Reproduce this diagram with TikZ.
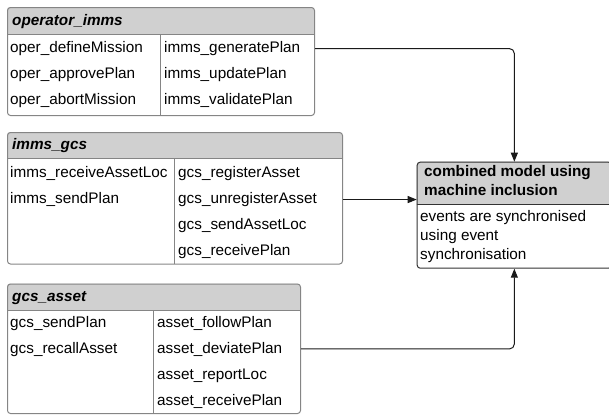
\documentclass[tikz,border=0pt]{standalone}
\usepackage{fontspec}
\setmainfont{Liberation Sans}
\usetikzlibrary{arrows.meta}
\definecolor{headgray}{HTML}{D0D0D0}
\definecolor{framegray}{HTML}{858585}
\definecolor{framedark}{HTML}{333333}
\definecolor{inkdark}{HTML}{1A1A1A}

% grey title band of a box: left x, right x, top y, band bottom y
\newcommand\titleband[4]{%
  \fill[headgray, rounded corners=3pt] (#1,#3) rectangle (#2,#4+4);
  \fill[white] (#1+0.5,#4) rectangle (#2-0.5,#4+6);}

\begin{document}
\begin{tikzpicture}[x=1pt,y=-1pt,
  frame/.style={draw=framegray, line width=1pt, rounded corners=3pt, rectangle,
                inner sep=0pt, anchor=north west},
  title/.style={anchor=base west, inner sep=0pt, font=\fontsize{15.3}{18}\selectfont\bfseries\itshape},
  btitle/.style={anchor=base west, inner sep=0pt, font=\fontsize{15.3}{18}\selectfont\bfseries},
  item/.style={anchor=base west, inner sep=0pt, font=\fontsize{15.3}{18}\selectfont},
  divider/.style={draw=framegray, line width=1pt},
  conn/.style={draw=inkdark, line width=1pt, rounded corners=5pt,
               -{Triangle[length=9pt,width=7pt]}},
]
\useasboundingbox (0,0) rectangle (609,416);

% ---- operator_imms ----
\titleband{7}{314}{7}{34}
\node[frame, minimum width=307pt, minimum height=108pt] (opbox) at (7,7) {};
\draw[divider] (7,34) -- (314,34);
\draw[divider] (160,34) -- (160,115);
\node[title] (optitle) at (12,25.5) {operator\_imms};
\node[item] (op1a) at (10,52.5) {oper\_defineMission};
\node[item] (op1b) at (10,78.5) {oper\_approvePlan};
\node[item] (op1c) at (10,104.5) {oper\_abortMission};
\node[item] (op2a) at (164,52.5) {imms\_generatePlan};
\node[item] (op2b) at (164,78.5) {imms\_updatePlan};
\node[item] (op2c) at (164,104.5) {imms\_validatePlan};

% ---- imms_gcs ----
\titleband{7}{342}{132}{158.5}
\node[frame, minimum width=335pt, minimum height=131.5pt] (gcsbox) at (7,132) {};
\draw[divider] (7,158.5) -- (342,158.5);
\draw[divider] (174.3,158.5) -- (174.3,263.5);
\node[title] (gcstitle) at (12,149.5) {imms\_gcs};
\node[item] (gc1a) at (10,177.5) {imms\_receiveAssetLoc};
\node[item] (gc1b) at (10,203.5) {imms\_sendPlan};
\node[item] (gc2a) at (178,177.5) {gcs\_registerAsset};
\node[item] (gc2b) at (178,203.5) {gcs\_unregisterAsset};
\node[item] (gc2c) at (178,229.5) {gcs\_sendAssetLoc};
\node[item] (gc2d) at (178,255.5) {gcs\_receivePlan};

% ---- gcs_asset ----
\titleband{7}{300}{283.5}{310}
\node[frame, minimum width=293pt, minimum height=129.5pt] (assetbox) at (7,283.5) {};
\draw[divider] (7,310) -- (300,310);
\draw[divider] (153.3,310) -- (153.3,413);
\node[title] (astitle) at (12,301.5) {gcs\_asset};
\node[item] (as1a) at (10,327) {gcs\_sendPlan};
\node[item] (as1b) at (10,353) {gcs\_recallAsset};
\node[item] (as2a) at (157,327) {asset\_followPlan};
\node[item] (as2b) at (157,353) {asset\_deviatePlan};
\node[item] (as2c) at (157,379) {asset\_reportLoc};
\node[item] (as2d) at (157,405) {asset\_receivePlan};

% ---- combined model (runs past the right margin) ----
\titleband{416.7}{611}{161.7}{204}
\node[frame, draw=framedark, minimum width=194.3pt, minimum height=106pt] (combined) at (416.7,161.7) {};
\draw[line width=1pt, draw=framedark] (416.7,204) -- (611,204);
\node[btitle] (cmt1) at (424,176.7) {combined model using};
\node[btitle] (cmt2) at (424,195.7) {machine inclusion};
\node[item] (cmb1) at (420,221.5) {events are synchronised};
\node[item] (cmb2) at (420,240.5) {using event};
\node[item] (cmb3) at (420,259) {synchronisation};

% ---- connectors ----
\draw[conn] (op2a.east -| opbox.east) -| (combined.north);
\draw[conn] (gc2b.east -| gcsbox.east) -- (gc2b.east -| combined.west);
\draw[conn] (as2b.east -| assetbox.east) -| (combined.south);
\end{tikzpicture}
\end{document}
